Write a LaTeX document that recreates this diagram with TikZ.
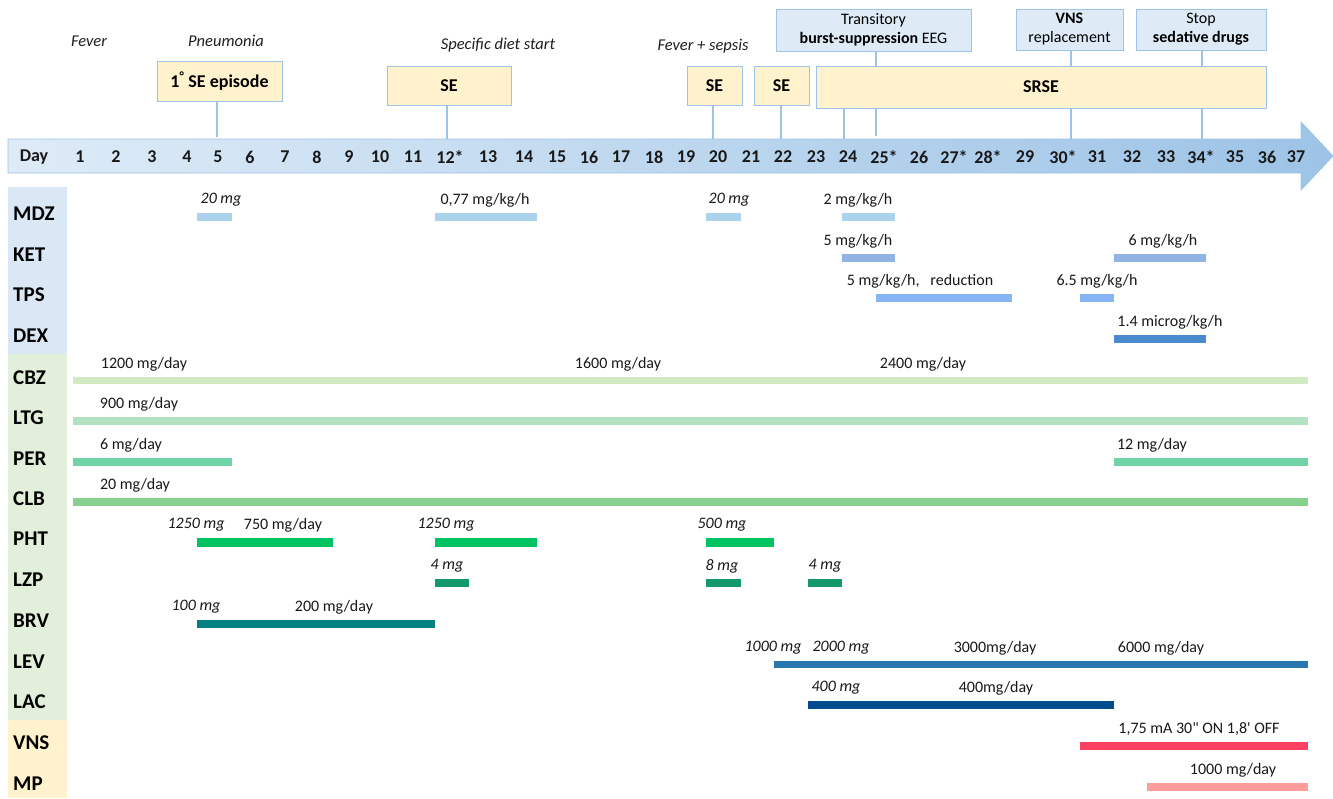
\documentclass[tikz,border=0pt]{standalone}
\usepackage{fontspec}
\setmainfont{Carlito}
\newfontfamily\rawcarlito[Ligatures=ResetAll]{Carlito}
\usetikzlibrary{shadings}
\definecolor{seyel}{HTML}{FFF2CC}
\definecolor{infob}{HTML}{DEEBF7}
\definecolor{bline}{HTML}{9DC3E6}
\definecolor{sideb}{HTML}{DAE8F5}
\definecolor{sideg}{HTML}{E2EFDA}
\definecolor{sidey}{HTML}{FFF2CC}
\definecolor{cMDZ}{HTML}{ABD3EC}
\definecolor{cKET}{HTML}{8FB4E3}
\definecolor{cTPS}{HTML}{85B5F5}
\definecolor{cDEX}{HTML}{4A8BD0}
\definecolor{cCBZ}{HTML}{D2EAC2}
\definecolor{cLTG}{HTML}{B2E2C2}
\definecolor{cPER}{HTML}{6FD3A6}
\definecolor{cCLB}{HTML}{88D08F}
\definecolor{cPHT}{HTML}{00C462}
\definecolor{cLZP}{HTML}{16986E}
\definecolor{cBRV}{HTML}{008080}
\definecolor{cLEV}{HTML}{2877B0}
\definecolor{cLAC}{HTML}{004B8D}
\definecolor{cVNS}{HTML}{FF4262}
\definecolor{cMP}{HTML}{FF9C9C}
\tikzset{
  daylbl/.style={font=\fontsize{18}{20}\selectfont\bfseries, text=black!90, inner sep=0},
  rowlbl/.style={anchor=west, font=\fontsize{21}{23}\selectfont\bfseries, text=black, inner sep=0},
  dose/.style={font=\fontsize{16}{18}\selectfont, text=black!90, inner sep=0},
  dosei/.style={font=\fontsize{16}{18}\selectfont\itshape, text=black!90, inner sep=0},
  evlbl/.style={font=\fontsize{16.5}{18}\selectfont\itshape, text=black!88, inner sep=0},
  sebox/.style={draw=bline, line width=0.9pt, fill=seyel, font=\fontsize{18}{20}\selectfont\bfseries, inner sep=0},
  infobox/.style={draw=bline, line width=0.9pt, fill=infob, font=\fontsize{16}{19}\selectfont, align=center, inner sep=0},
  conn/.style={draw=bline, line width=1.1pt}
}
\begin{document}
\begin{tikzpicture}[x=1pt,y=-1pt]
\useasboundingbox (0,0) rectangle (1333,798);
\fill[white] (0,0) rectangle (1333,798);
% timeline arrow
\shade[left color=infob, right color=bline, draw=bline, line width=0.8pt]
  (8,139) -- (1301,139) -- (1301,122) -- (1333,156) -- (1301,190) -- (1301,173) -- (8,173) -- cycle;
\coordinate (tl5) at (217,137);
\coordinate (tl12) at (447,139);
\coordinate (tl20) at (713,139);
\coordinate (tl22) at (781,139);
\coordinate (tl24) at (844,139);
\coordinate (tl25) at (876,136);
\coordinate (tl30) at (1071,139);
\coordinate (tl34) at (1202,139);
% day labels
\node[daylbl] (day) at (34,157) {Day};
\foreach \x/\t [count=\i] in {80/1,116/2,152/3,187/4,218/5,250/6,285/7,317/8,349/9,380/10,413/11,450/12*,488/13,524/14,557/15,589/16,621/17,654/18,686/19,718/20,751/21,783/22,816/23,848/24,884/25*,919/26,954/27*,988/28*,1025/29,1063/30*,1097/31,1132/32,1166/33,1201/34*,1235/35,1267/36,1296/37}
  \node[daylbl] (d\i) at (\x,157) {\t};
% event labels
\node[evlbl] (fever) at (89,41) {Fever};
\node[evlbl] (pneu) at (226,41) {Pneumonia};
\node[evlbl] (diet) at (498,45) {Specific diet start};
\node[evlbl] (sepsis) at (703,46) {Fever + sepsis};
% event boxes
\node[sebox, minimum width=125, minimum height=40] (se1) at (219.5,81) {1\textsuperscript{°} SE episode};
\node[sebox, minimum width=124, minimum height=39] (se2) at (449,85.5) {SE};
\node[sebox, minimum width=55, minimum height=39] (se3) at (714.5,85.5) {SE};
\node[sebox, minimum width=55, minimum height=39] (se4) at (781.5,85.5) {SE};
\node[sebox, minimum width=450, minimum height=42] (srse) at (1041,87) {SRSE};
\node[infobox, minimum width=195, minimum height=42] (bs) at (873.5,30) {Transitory\\\textbf{burst-suppression} EEG};
\node[infobox, minimum width=107, minimum height=41] (vns) at (1069.5,29.5) {\textbf{VNS}\\replacement};
\node[infobox, minimum width=130, minimum height=41] (stop) at (1201,29.5) {Stop\\\textbf{sedative drugs}};
% connectors
\draw[conn] (se1.south -| tl5) -- (tl5);
\draw[conn] (se2.south -| tl12) -- (tl12);
\draw[conn] (se3.south -| tl20) -- (tl20);
\draw[conn] (se4.south -| tl22) -- (tl22);
\draw[conn] (srse.south -| tl24) -- (tl24);
\draw[conn] (bs.south -| tl25) -- (srse.north -| tl25);
\draw[conn] (srse.south -| tl25) -- (tl25);
\draw[conn] (vns.south -| tl30) -- (srse.north -| tl30);
\draw[conn] (srse.south -| tl30) -- (tl30);
\draw[conn] (stop.south -| tl34) -- (srse.north -| tl34);
\draw[conn] (srse.south -| tl34) -- (tl34);
% side bar
\fill[sideb] (8,187) rectangle (67,354);
\fill[sideg] (8,354) rectangle (67,720);
\fill[sidey] (8,720) rectangle (67,798);
\foreach \n/\y in {MDZ/213,KET/254,TPS/294,DEX/335,CBZ/377,LTG/417,PER/458,CLB/498,PHT/538,LZP/579,BRV/620,LEV/661,LAC/701,VNS/742,MP/783}
  \node[rowlbl] (r\n) at (13,\y+1) {\n};
% bars
\fill[cMDZ] (197,213) rectangle (232,221);
\fill[cMDZ] (435,213) rectangle (537,221);
\fill[cMDZ] (706,213) rectangle (741,221);
\fill[cMDZ] (842,213) rectangle (895,221);
\fill[cKET] (842,254) rectangle (895,262);
\fill[cKET] (1114,254) rectangle (1206,262);
\fill[cTPS] (876,294) rectangle (1012,302);
\fill[cTPS] (1080,294) rectangle (1114,302);
\fill[cDEX] (1114,335) rectangle (1206,343);
\fill[cCBZ] (73,377) rectangle (1308,384);
\fill[cLTG] (73,417) rectangle (1308,425);
\fill[cPER] (73,458) rectangle (232,466);
\fill[cPER] (1114,458) rectangle (1308,466);
\fill[cCLB] (73,498) rectangle (1308,506);
\fill[cPHT] (197,538) rectangle (333,547);
\fill[cPHT] (435,538) rectangle (537,547);
\fill[cPHT] (706,538) rectangle (774,547);
\fill[cLZP] (435,579) rectangle (469,587);
\fill[cLZP] (706,579) rectangle (741,587);
\fill[cLZP] (808,579) rectangle (842,587);
\fill[cBRV] (197,620) rectangle (435,628);
\fill[cLEV] (774,661) rectangle (1308,668);
\fill[cLAC] (808,701) rectangle (1114,709);
\fill[cVNS] (1080,742) rectangle (1308,750);
\fill[cMP] (1147,783) rectangle (1308,791);
% dose labels
\node[dosei] (m1) at (221,200) {20 mg};
\node[dose] (m2) at (485,200) {0,77 mg/kg/h};
\node[dosei] (m3) at (729,200) {20 mg};
\node[dose] (m4) at (858,200) {2 mg/kg/h};
\node[dose] (k1) at (858,241) {5 mg/kg/h};
\node[dose] (k2) at (1163,241) {6 mg/kg/h};
\node[dose] (t1) at (920,281) {5 mg/kg/h,\ \ \ reduction};
\node[dose] (t2) at (1097,281) {6.5 mg/kg/h};
\node[dose] (x1) at (1170,322) {1.4 microg/kg/h};
\node[dose] (c1) at (144,364) {1200 mg/day};
\node[dose] (c2) at (618,364) {1600 mg/day};
\node[dose] (c3) at (923,364) {2400 mg/day};
\node[dose] (l1) at (139,404) {900 mg/day};
\node[dose] (p1) at (131,445) {6 mg/day};
\node[dose] (p2) at (1152,445) {12 mg/day};
\node[dose] (cl1) at (135,485) {20 mg/day};
\node[dosei] (h1) at (196,525) {1250 mg};
\node[dose] (h2) at (283,525) {750 mg/day};
\node[dosei] (h3) at (446,525) {1250 mg};
\node[dosei] (h4) at (722,525) {500 mg};
\node[dosei] (z1) at (447,566) {4 mg};
\node[dosei] (z2) at (722,566) {8 mg};
\node[dosei] (z3) at (825,566) {4 mg};
\node[dosei] (b1) at (196,607) {100 mg};
\node[dose] (b2) at (334,607) {200 mg/day};
\node[dosei] (e1) at (773,648) {1000 mg};
\node[dosei] (e2) at (841,648) {2000 mg};
\node[dose] (e3) at (995,648) {3000mg/day};
\node[dose] (e4) at (1161,648) {6000 mg/day};
\node[dosei] (a1) at (836,688) {400 mg};
\node[dose] (a2) at (996,688) {400mg/day};
\node[dose] (v1) at (1199,729) {{\rawcarlito 1,75 mA 30" ON 1,8' OFF}};
\node[dose] (mp1) at (1233,770) {1000 mg/day};
\end{tikzpicture}
\end{document}
